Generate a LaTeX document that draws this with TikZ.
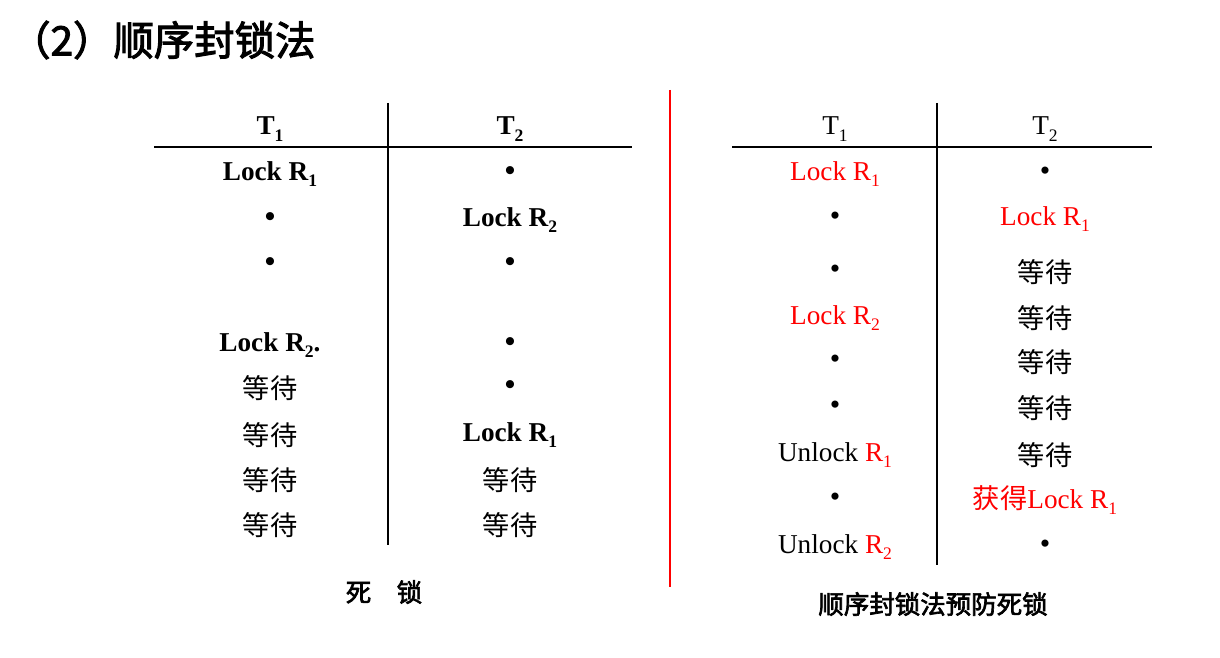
\documentclass[tikz,border=0pt]{standalone}
\usepackage{fontspec}
\setmainfont{Liberation Serif}
\newfontfamily\cjk[BoldFont={Noto Sans CJK SC},BoldFeatures={FakeBold=2.5}]{Noto Sans CJK SC}
\usetikzlibrary{positioning}
\definecolor{lockred}{RGB}{255,0,0}
\newcommand{\wt}{{\cjk\mdseries 等待}}
\newcommand{\sub}[1]{\raisebox{-0.55ex}{\fontsize{10}{10}\selectfont #1}}
\newcommand{\dt}{{\fontsize{17}{17}\selectfont\textbullet}}
\begin{document}
\begin{tikzpicture}[x=0.02cm,y=-0.02cm,
    cellText/.style={font=\fontsize{15.5}{17}\selectfont, anchor=center, inner sep=0pt},
    boldCell/.style={cellText, font=\fontsize{15.5}{17}\selectfont\bfseries},
    tableLine/.style={line width=0.8pt, black}
]
\useasboundingbox (0,0) rectangle (1220,658);
% title
\node[anchor=west, font=\fontsize{23}{25}\selectfont\bfseries\cjk] (title) at (4,40) {（2）顺序封锁法};

% left table: deadlock
\coordinate (lTop) at (388,103);
\coordinate (lBot) at (388,545);
\coordinate (lLeft) at (154,147);
\coordinate (lRight) at (632,147);
\draw[tableLine] (lTop) -- (lBot);
\draw[tableLine] (lLeft) -- (lRight);
\node[boldCell] (lh1) at (270,129) {T\sub{1}};
\node[boldCell] (lh2) at (510,129) {T\sub{2}};
\foreach \y/\a/\b [count=\i] in {
    174/{Lock R\sub{1}}/{\dt},
    220/{\dt}/{Lock R\sub{2}},
    265/{\dt}/{\dt},
    345/{Lock R\sub{2}.}/{\dt},
    388/{\wt}/{\dt},
    435/{\wt}/{Lock R\sub{1}},
    480/{\wt}/{\wt},
    525/{\wt}/{\wt}} {
  \node[boldCell] (la\i) at (270,\y) {\a};
  \node[boldCell] (lb\i) at (510,\y) {\b};
}
\node[font=\fontsize{14.5}{16}\selectfont\bfseries\cjk] (lcap) at (384,592) {死\quad 锁};

% divider
\coordinate (divTop) at (670,90);
\coordinate (divBot) at (670,587);
\draw[lockred, line width=1pt] (divTop) -- (divBot);

% right table: ordered locking
\coordinate (rTop) at (937,103);
\coordinate (rBot) at (937,565);
\coordinate (rLeft) at (732,147);
\coordinate (rRight) at (1152,147);
\draw[tableLine] (rTop) -- (rBot);
\draw[tableLine] (rLeft) -- (rRight);
\node[cellText] (rh1) at (835,129) {T\sub{1}};
\node[cellText] (rh2) at (1045,129) {T\sub{2}};
\foreach \y/\a/\b [count=\i] in {
    174/{\color{lockred}Lock R\sub{1}}/{\dt},
    219/{\dt}/{\color{lockred}Lock R\sub{1}},
    272/{\dt}/{\wt},
    318/{\color{lockred}Lock R\sub{2}}/{\wt},
    362/{\dt}/{\wt},
    408/{\dt}/{\wt},
    455/{Unlock {\color{lockred}R\sub{1}}}/{\wt},
    500/{\dt}/{\color{lockred}{\cjk 获得}Lock R\sub{1}},
    547/{Unlock {\color{lockred}R\sub{2}}}/{\dt}} {
  \node[cellText] (ra\i) at (835,\y) {\a};
  \node[cellText] (rb\i) at (1045,\y) {\b};
}
\node[font=\fontsize{14.5}{16}\selectfont\bfseries\cjk] (rcap) at (933,604) {顺序封锁法预防死锁};
\end{tikzpicture}
\end{document}
